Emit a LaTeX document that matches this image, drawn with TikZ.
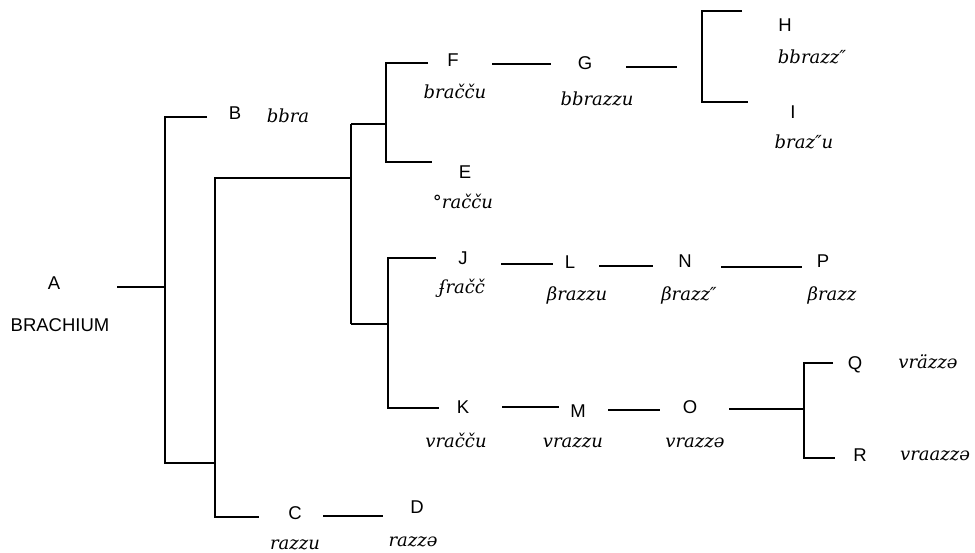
\documentclass[tikz,border=0pt]{standalone}
\usepackage{fontspec}
\setmainfont{Liberation Sans}
\newfontfamily\phonfont{DejaVu Serif}
\begin{document}
\begin{tikzpicture}[x=1pt,y=-1pt,
  lab/.style={font=\fontsize{18.5}{18.5}\selectfont, inner sep=0pt, text height=13pt, text depth=0pt, anchor=center},
  ph/.style={font=\phonfont\itshape\fontsize{18}{18}\selectfont, inner sep=0pt, text height=10pt, text depth=0pt, anchor=center},
  br/.style={line width=1.5pt, black}]
\useasboundingbox (0,0) rectangle (975,552);
\fill[white] (0,0) rectangle (975,552);
% coordinates of the tree
\coordinate (a1) at (117,287); \coordinate (a2) at (165,287);
\coordinate (v1t) at (165,117); \coordinate (v1b) at (165,463);
\coordinate (bE) at (207,117);
\coordinate (v2t) at (215,178); \coordinate (v2m) at (215,463); \coordinate (v2b) at (215,517);
\coordinate (cE) at (259,517);
\coordinate (v3t) at (351,124); \coordinate (v3m) at (351,178); \coordinate (v3b) at (351,324);
\coordinate (v4t) at (386,63); \coordinate (v4m) at (386,124); \coordinate (v4b) at (386,162);
\coordinate (fE) at (428,63); \coordinate (eE) at (432,162);
\coordinate (v5t) at (388,258); \coordinate (v5m) at (388,324); \coordinate (v5b) at (388,408);
\coordinate (jE) at (436,258); \coordinate (kE) at (439,408);
\coordinate (fg1) at (492,64); \coordinate (fg2) at (551,64);
\coordinate (gh1) at (626,67); \coordinate (gh2) at (677,67);
\coordinate (hE) at (742,11); \coordinate (h0) at (702,11);
\coordinate (i0) at (702,102); \coordinate (iE) at (748,102);
\coordinate (jl1) at (501,264); \coordinate (jl2) at (553,264);
\coordinate (ln1) at (599,266); \coordinate (ln2) at (653,266);
\coordinate (np1) at (721,267); \coordinate (np2) at (802,267);
\coordinate (km1) at (502,407); \coordinate (km2) at (559,407);
\coordinate (mo1) at (608,410); \coordinate (mo2) at (660,410);
\coordinate (oq1) at (729,409); \coordinate (oq2) at (804,409);
\coordinate (qE) at (833,363); \coordinate (q0) at (804,363);
\coordinate (r0) at (804,458); \coordinate (rE) at (835,458);
\coordinate (cd1) at (323,516); \coordinate (cd2) at (383,516);
% connectors
\draw[br] (a1) -- (a2);
\draw[br] (bE) -- (v1t) -- (v1b) -- (v2m);
\draw[br] (v3m) -- (v2t) -- (v2b) -- (cE);
\draw[br] (v3t) -- (v3b);
\draw[br] (v3t) -- (v4m);
\draw[br] (fE) -- (v4t) -- (v4b) -- (eE);
\draw[br] (v3b) -- (v5m);
\draw[br] (jE) -- (v5t) -- (v5b) -- (kE);
\draw[br] (fg1) -- (fg2);
\draw[br] (gh1) -- (gh2);
\draw[br] (hE) -- (h0) -- (i0) -- (iE);
\draw[br] (jl1) -- (jl2);
\draw[br] (ln1) -- (ln2);
\draw[br] (np1) -- (np2);
\draw[br] (km1) -- (km2);
\draw[br] (mo1) -- (mo2);
\draw[br] (oq1) -- (oq2);
\draw[br] (qE) -- (q0) -- (r0) -- (rE);
\draw[br] (cd1) -- (cd2);
% labels
\node[lab] (A) at (54,283) {A};
\node[lab] (Abr) at (60,325) {BRACHIUM};
\node[lab] (B) at (235,113) {B};
\node[ph] (Bp) at (288,117) {bbra};
\node[lab] (C) at (295,513) {C};
\node[ph] (Cp) at (295,544) {razzu};
\node[lab] (D) at (417,507) {D};
\node[ph] (Dp) at (413,541) {razzə};
\node[lab] (F) at (453,60) {F};
\node[ph] (Fp) at (455,93) {bračču};
\node[lab] (G) at (585,63) {G};
\node[ph] (Gp) at (597,100) {bbrazzu};
\node[lab] (H) at (785,25) {H};
\node[ph] (Hp) at (812,58) {bbrazz″};
\node[lab] (I) at (793,112) {I};
\node[ph] (Ip) at (804,143) {braz″u};
\node[lab] (E) at (465,172) {E};
\node[ph] (Ep) at (463,203) {°račču};
\node[lab] (J) at (463,258) {J};
\node[ph] (Jp) at (462,288) {ʄračč};
\node[lab] (L) at (570,262) {L};
\node[ph] (Lp) at (577,295) {βrazzu};
\node[lab] (N) at (685,261) {N};
\node[ph] (Np) at (689,295) {βrazz″};
\node[lab] (P) at (823,261) {P};
\node[ph] (Pp) at (832,295) {βrazz};
\node[lab] (K) at (463,407) {K};
\node[ph] (Kp) at (456,442) {vračču};
\node[lab] (M) at (578,411) {M};
\node[ph] (Mp) at (573,442) {vrazzu};
\node[lab] (O) at (690,407) {O};
\node[ph] (Op) at (695,442) {vrazzə};
\node[lab] (Q) at (855,363) {Q};
\node[ph] (Qp) at (928,363) {vräzzə};
\node[lab] (R) at (860,455) {R};
\node[ph] (Rp) at (935,455) {vraazzə};
\end{tikzpicture}
\end{document}
